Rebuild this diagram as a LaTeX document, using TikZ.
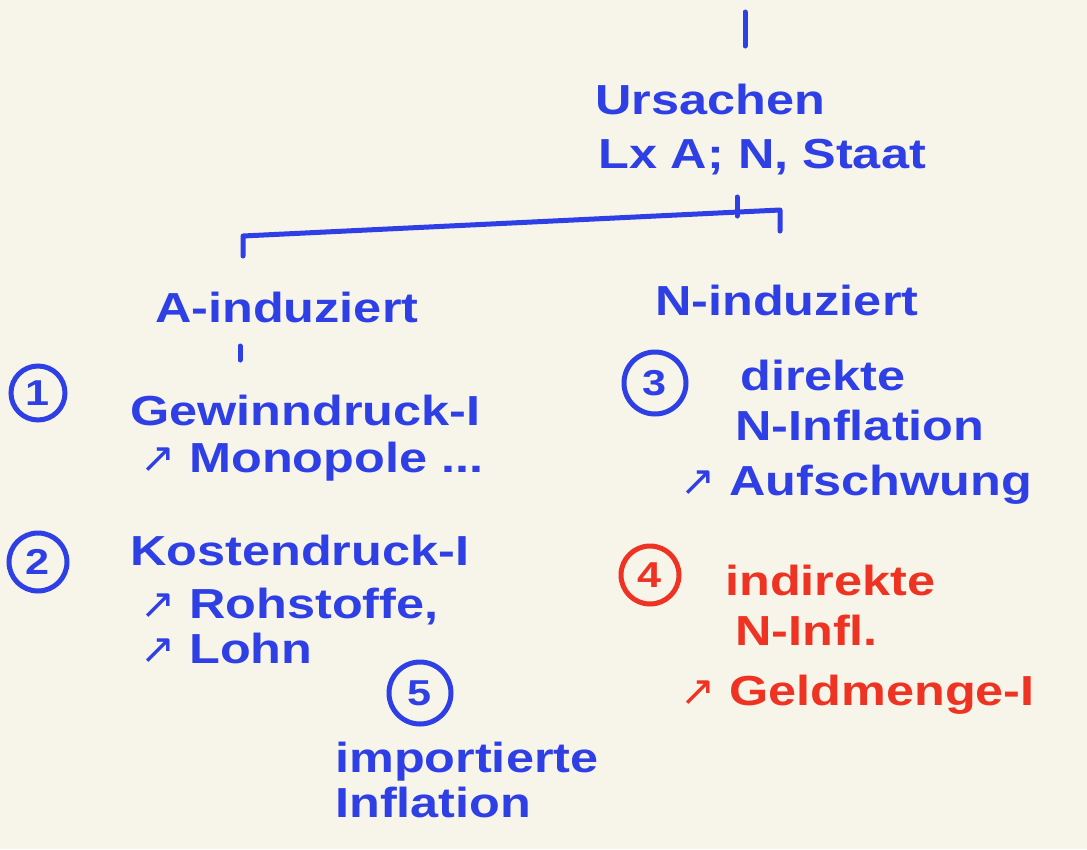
\documentclass[tikz,border=0pt]{standalone}
\usepackage{fontspec}
\newfontfamily\hand[FakeStretch=1.2]{Liberation Sans Bold}
\newfontfamily\sym{DejaVu Sans}
\definecolor{bg}{HTML}{F7F4EA}
\definecolor{ink}{HTML}{2E3FE6}
\definecolor{redink}{HTML}{EE3322}
\begin{document}
\begin{tikzpicture}[x=1pt,y=-1pt,
  txt/.style={font=\hand\fontsize{42}{46}\selectfont, text=ink, inner sep=0pt, anchor=base west},
  rtxt/.style={txt, text=redink},
  num/.style={circle, draw=ink, line width=5pt, inner sep=0pt, font=\hand\fontsize{36}{38}\selectfont, text=ink},
  rnum/.style={num, draw=redink, text=redink},
  stroke/.style={draw=ink, line width=5pt, line cap=round, line join=round}]
\fill[bg] (0,0) rectangle (1087,849);
\useasboundingbox (0,0) rectangle (1087,849);
% top
\coordinate (t1) at (745,12);
\coordinate (t2) at (745,46);
\draw[stroke] (t1) -- (t2);
\node[txt] (urs) at (595,114) {Ursachen};
\node[txt] (staat) at (598,168) {Lx A; N, Staat};
% bracket
\coordinate (bl) at (243,256);
\coordinate (br) at (780,231);
\coordinate (m1) at (737,197);
\coordinate (m2) at (737,216);
\draw[stroke] (bl) -- (243,236) -- (780,210) -- (br);
\draw[stroke] (m1) -- (m2);
% left branch
\node[txt] (aind) at (155,322) {A-induziert};
\coordinate (a1) at (240,346);
\coordinate (a2) at (240,360);
\draw[stroke] (a1) -- (a2);
\node[num, minimum size=54pt] (n1) at (38,393) {1};
\node[txt] (gew) at (130,425) {Gewinndruck-I};
\node[txt] (mon) at (140,472) {{\sym ↗} Monopole ...};
\node[num, minimum size=58pt] (n2) at (38,562) {2};
\node[txt] (kos) at (130,565) {Kostendruck-I};
\node[txt] (roh) at (140,618) {{\sym ↗} Rohstoffe,};
\node[txt] (lohn) at (140,663) {{\sym ↗} Lohn};
\node[num, minimum size=62pt] (n5) at (420,693) {5};
\node[txt] (imp) at (335,772) {importierte};
\node[txt] (inf) at (335,817) {Inflation};
% right branch
\node[txt] (nind) at (655,315) {N-induziert};
\node[num, minimum size=62pt] (n3) at (655,383) {3};
\node[txt] (dir) at (740,390) {direkte};
\node[txt] (ninf) at (735,440) {N-Inflation};
\node[txt] (auf) at (680,495) {{\sym ↗} Aufschwung};
\node[rnum, minimum size=58pt] (n4) at (650,575) {4};
\node[rtxt] (ind) at (725,595) {indirekte};
\node[rtxt] (ninfl) at (735,645) {N-Infl.};
\node[rtxt] (geld) at (680,705) {{\sym ↗} Geldmenge-I};
\end{tikzpicture}
\end{document}
